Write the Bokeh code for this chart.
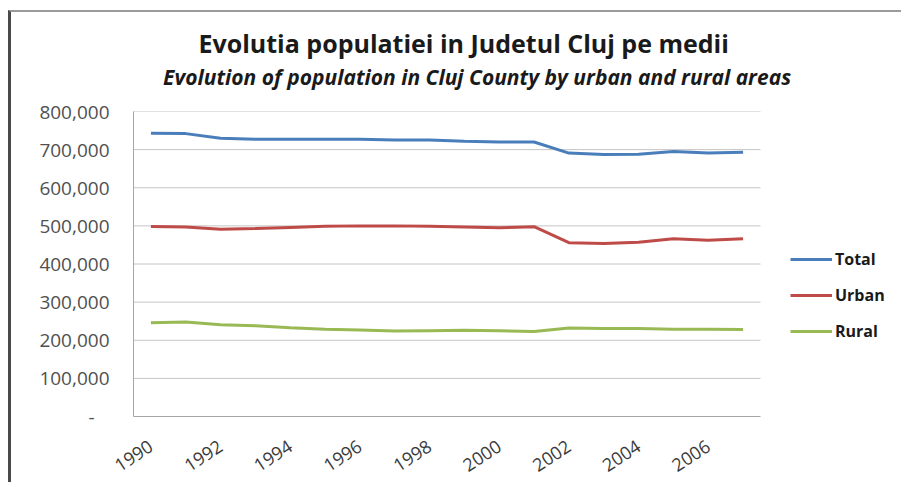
from bokeh.plotting import figure
from bokeh.models import (Title, Legend, LegendItem, FixedTicker, CustomJSTickFormatter,
                          Range1d, LinearAxis)
from bokeh.embed import file_html
from bokeh.resources import INLINE

years = list(range(1990, 2008))
total = [743000, 742000, 730000, 727000, 727000, 727000, 727000, 725000, 725000, 722000,
         720000, 720000, 691000, 687000, 688000, 695000, 691000, 693000]
urban = [498500, 497000, 491000, 493000, 496000, 499000, 500000, 500000, 499000, 497000,
         495000, 498000, 456000, 454000, 457000, 466000, 462000, 466000]
rural = [246000, 248000, 240500, 238000, 233000, 229000, 227000, 224000, 225000, 226000,
         225000, 223000, 232000, 231000, 231000, 229000, 229000, 228000]
x_tick_years = [1990, 1992, 1994, 1996, 1998, 2000, 2002, 2004, 2006]
y_ticks = [0, 100000, 200000, 300000, 400000, 500000, 600000, 700000, 800000]
series_names = ["Total", "Urban", "Rural"]
colors = ["#4a7ebb", "#be4b48", "#98b954"]
title_text = "Evolutia populatiei in Judetul Cluj pe medii"
subtitle_text = "Evolution of population in Cluj County by urban and rural areas"

FONT = "Open Sans"

# layout (pixels)
W, H = 893, 472
LEFT, RIGHT, TOP, BOTTOM = 122, 2, 99, 68
PLOT_W = 627  # width of the plotted (gridded) area; the rest of the frame holds the legend
x0 = years[0] - 0.5
x1 = years[-1] + 0.5
frame_w = W - LEFT - RIGHT
x_end = x0 + (x1 - x0) * frame_w / PLOT_W

p = figure(width=W, height=H, output_backend="svg", toolbar_location=None,
           x_range=Range1d(x0, x_end), y_range=Range1d(0, 800000),
           min_border_left=LEFT, min_border_right=RIGHT, min_border_top=TOP,
           min_border_bottom=BOTTOM)
p.styles = {"border-left": "3px solid #4a4a4a", "border-top": "2px solid #9a9a9a",
            "margin-left": "8px", "margin-top": "10px"}
p.outline_line_color = None
p.background_fill_color = "white"
p.border_fill_color = "white"

# subtitle drawn as the label of an empty axis above the plot
sub_axis = LinearAxis(ticker=FixedTicker(ticks=[]),
                      axis_label=subtitle_text + "\u00a0" * 15,
                      axis_label_text_font=FONT, axis_label_text_font_size="21px",
                      axis_label_text_font_style="bold italic",
                      axis_label_text_color="#1a1a1a", axis_label_standoff=21,
                      axis_line_color=None, major_tick_in=0, major_tick_out=0,
                      minor_tick_in=0, minor_tick_out=0, major_label_standoff=0,
                      major_label_text_font_size="0px")
p.add_layout(sub_axis, "above")
main = Title(text=title_text, align="left", offset=65,
             text_font=FONT, text_font_size="25px", text_font_style="bold",
             text_color="#1a1a1a", standoff=0)
p.add_layout(main, "above")

# horizontal gridlines limited to the plotted area
p.segment(x0=[x0] * (len(y_ticks) - 1), x1=[x1] * (len(y_ticks) - 1),
          y0=y_ticks[1:], y1=y_ticks[1:], line_color="#c4c4c4", line_width=1)

renderers = []
for vals, c in zip([total, urban, rural], colors):
    r = p.line(years, vals, line_color=c, line_width=3)
    renderers.append(r)

legend = Legend(items=[LegendItem(label=n, renderers=[r]) for n, r in zip(series_names, renderers)],
                location=(657, 74), padding=0, margin=0, spacing=14,
                glyph_width=42, glyph_height=20, label_height=20, label_standoff=3,
                label_text_font=FONT, label_text_font_size="16px",
                label_text_font_style="bold", label_text_color="#1a1a1a",
                border_line_color=None, background_fill_alpha=0)
p.add_layout(legend, "center")

# axes
xa = p.below[0]
xa.ticker = FixedTicker(ticks=x_tick_years)
xa.bounds = (x0, x1)
xa.major_label_orientation = 0.58
xa.major_label_standoff = 28
xa.major_tick_in = 0
xa.major_tick_out = 0
xa.minor_tick_in = 0
xa.minor_tick_out = 0
xa.axis_line_color = "#a6a6a6"
xa.major_label_text_font = FONT
xa.major_label_text_font_size = "18px"
xa.major_label_text_color = "#3a3a3a"

p.yaxis.ticker = FixedTicker(ticks=y_ticks)
p.yaxis.formatter = CustomJSTickFormatter(
    code="return tick == 0 ? '-\u00a0\u00a0\u00a0' : tick.toLocaleString('en-US');")
p.yaxis.major_label_standoff = 24
p.yaxis.major_tick_in = 0
p.yaxis.major_tick_out = 0
p.yaxis.minor_tick_in = 0
p.yaxis.minor_tick_out = 0
p.yaxis.axis_line_color = "#a6a6a6"
p.yaxis.major_label_text_font = FONT
p.yaxis.major_label_text_font_size = "19px"
p.yaxis.major_label_text_color = "#505050"

p.xgrid.grid_line_color = None
p.ygrid.grid_line_color = None

open("out.html", "w").write(file_html(p, INLINE))
